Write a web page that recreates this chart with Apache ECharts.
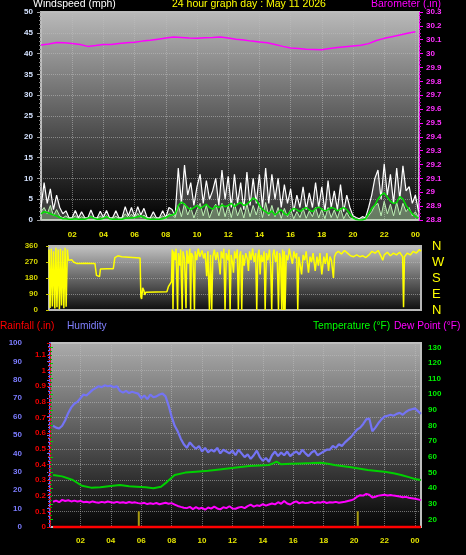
<!DOCTYPE html>
<html><head><meta charset="utf-8">
<script src="https://cdn.jsdelivr.net/npm/echarts@6/dist/echarts.min.js"></script>
<style>html,body{margin:0;padding:0;background:#000;}#c{width:466px;height:555px;}</style>
</head><body><div id="c"></div>
<script>
// ---------- data ----------
const hourLabels = ['02','04','06','08','10','12','14','16','18','20','22','00'];
const windStart = 0, windStep = 0.2;
const windGust = [3,9,4,7.5,2.5,6,3,1.5,2.2,0.5, 0.6,2.3,0.5,2.0,0.6,0.5,2.4,0.6,0.5,2.1, 0.6,2.3,0.5,0.6,2.2,0.5,0.6,3.2,1.0,3.0, 0.8,3.2,1.2,2.8,0.6,0.5,2.0,0.5,0.6,2.2, 0.6,3.0,2.5,1.0,12.5,4,13.2,6,9,3.5, 8,11,4,9.5,5,7,10,3.5,12,5, 10.5,3,11,4,9,2.5,11.5,3.5,10,4, 11,3,12.5,4,11,5,10,3,8.5,4, 7.5,2,6,3,8,2.5,6.5,3,9,3, 8,2,9.5,3,7,2.5,8.5,2,6,3, 1,0.6,0.3,0.8,0.5,3,6,10,12,5, 13.5,6,11,4,12.5,5,13,7,8,4, 6,2];
const windSpeed = [2,3,1.5,3.5,1,2.5,1,0.5,1.0,0.3, 0.5,1.0,0.3,0.8,0.4,0.3,1.0,0.4,0.3,0.9, 0.4,1.0,0.3,0.4,0.9,0.3,0.4,1.5,0.6,1.4, 0.5,1.6,0.6,1.2,0.4,0.3,0.8,0.3,0.4,1.0, 0.4,1.5,1.2,0.6,3.5,0.8,4,1.2,3,0.5, 2.5,4,1,3.5,0.5,2.5,3.8,1,4,0.8, 3.5,0.6,4,1,3,0.5,3.8,0.8,3.5,1.2, 4,0.6,4.2,1,3.5,0.8,3,0.4,2.8,0.8, 2.5,0.3,2,0.6,2.8,0.4,2.2,0.8,3,0.5, 2.6,0.3,3,0.6,2.4,0.4,2.8,0.3,1.8,0.5, 0.3,0.2,0.1,0.3,0.2,1,2,3.5,4,1, 4.5,1.5,3.8,1,4.2,1.2,4,2,3,1, 2,0.5];
const windAvg = [1.5,2,1.8,1.5,1.2,1.0,0.6,0.3,0.3,0.2, 0.2,0.3,0.2,0.2,0.2,0.4,0.8,0.4,0.2,0.2, 0.4,0.8,0.3,0.2,0.2,0.2,0.2,0.4,0.5,0.5, 0.6,0.8,1.0,0.6,0.3,0.2,0.2,0.2,0.2,0.3, 0.6,1.0,1.2,1.5,3.5,4.3,3.8,3,2.5,3, 3.5,2.8,3.2,3.8,3,2.6,3.4,3.0,3.6,3.2, 3.5,4,3.2,3.8,4.2,3.5,3.8,4.5,5.3,4.8, 3.5,2.5,2,1.5,2.2,1.2,1.8,2.5,1.5,1.2, 2.2,2.8,2.5,2,2.6,3,2.4,2,2.8,3.1, 2.6,2.2,2.5,3,2.8,2.2,2.6,3.0,2.5,1.5, 0.5,0.1,0,0,0.3,1.5,2.8,3.6,5,6, 6.5,5.5,4.5,4,4.2,5.6,5,3.5,2.5,1.5, 0.8,0.5];
const baroStart = 0, baroStep = 0.5;
const barometer = [30.062,30.070,30.080,30.078,30.072,30.065,30.052,30.058,30.065,30.066, 30.072,30.078,30.082,30.090,30.096,30.104,30.112,30.120,30.116,30.112, 30.110,30.114,30.116,30.120,30.112,30.104,30.098,30.090,30.084,30.078, 30.066,30.052,30.040,30.036,30.032,30.030,30.028,30.036,30.044,30.050, 30.055,30.060,30.072,30.094,30.110,30.122,30.134,30.146,30.158];
const windDir = [[0.0,340],[0.07,12],[0.15,345],[0.22,20],[0.3,330],[0.38,8],[0.45,350],[0.52,15],[0.6,340],[0.68,5],[0.75,345],[0.82,25],[0.9,335],[0.97,10],[1.05,350],[1.12,18],[1.2,340],[1.27,280],[1.4,288],[1.5,282],[1.6,270],[1.8,262],[2.4,263],[3.0,262],[3.1,195],[3.3,188],[3.36,230],[3.8,232],[4.2,232],[4.3,295],[4.5,305],[4.75,300],[4.8,292],[5.95,292],[6.0,75],[6.05,62],[6.12,125],[6.2,110],[6.25,85],[6.32,100],[6.4,103],[7.7,103],[7.8,131],[8.0,160],
[8.05,340],[8.1,5],[8.15,330],[8.25,280],[8.3,345],[8.4,0],[8.45,320],[8.55,250],[8.6,340],[8.7,0],[8.75,330],[8.85,290],[8.95,10],[9.0,335],[9.1,260],[9.2,345],[9.25,0],[9.3,320],[9.4,300],[9.5,0],[9.55,330],[9.65,280],[9.75,345],[9.85,300],
[9.9,310],[10.0,335],[10.1,290],[10.2,320],[10.3,190],[10.38,330],[10.48,0],[10.55,310],[10.63,0],[10.7,300],[10.8,340],[10.9,280],[11.0,325],[11.1,270],[11.18,200],[11.25,330],[11.35,290],[11.42,345],[11.5,0],[11.58,320],[11.7,280],[11.76,340],[11.83,0],[11.9,310],[12.0,260],[12.05,210],[12.12,330],[12.2,290],[12.3,340],[12.37,0],[12.44,300],[12.52,330],[12.59,0],[12.66,310],[12.75,250],[12.85,320],[12.95,290],[13.03,220],[13.1,330],[13.2,280],[13.3,345],[13.4,270],[13.5,320],[13.57,0],[13.64,300],[13.72,340],[13.79,200],[13.86,310],[13.95,270],[14.05,330],[14.12,0],[14.2,320],[14.3,280],[14.4,340],[14.48,250],[14.55,0],[14.62,310],[14.7,340],[14.8,270],[14.9,330],[14.99,0],[15.06,320],[15.13,290],[15.2,0],[15.26,340],[15.32,0],[15.37,330],[15.42,0],[15.5,310],[15.6,280],[15.7,345],[15.8,300],[15.9,260],[16.0,330],[16.1,290],[16.18,320],[16.25,0],[16.32,300],[16.4,260],[16.5,200],[16.6,310],[16.7,280],[16.8,330],[16.95,210],[17.05,300],[17.15,270],[17.25,320],[17.39,220],[17.5,300],[17.6,250],[17.7,320],[17.82,200],[17.95,300],[18.05,260],[18.15,320],[18.26,220],[18.35,300],[18.45,280],[18.58,180],[18.65,300],[18.75,320],
[18.9,330],[19.1,315],[19.3,335],[19.5,320],[19.7,305],[19.9,300],[20.1,310],[20.3,300],[20.5,305],[20.7,295],[20.9,310],[21.1,330],[21.3,320],[21.5,335],[21.7,300],[21.8,280],[21.9,310],[22.1,325],[22.3,305],[22.5,320],[22.7,310],[22.9,325],[23.1,300],[23.16,15],[23.22,300],[23.4,320],[23.6,310],[23.8,330],[24.0,320],[24.2,340],[24.3,330]];
const bottomStart = 0.2, bottomStep = 0.2;
const humidity = [55,54,53.5,55,58,62,65,67,68,70, 72,71.5,73,74.5,75.5,76.5,76,77,76.5,76.8, 76,76.5,74,73,74,72.8,73.5,73,72.5,70, 71.5,69.5,72,70.5,71,72,72.5,71,66,60, 55,52,48,45,43,46,44,42.5,44,41, 43,40.6,42,41,43,40,42,41,40,41.5, 39,42,40,38,39.5,37,39,41.5,38,36, 37.5,35.5,39,41,38.5,40.5,39,41,38.5,40, 41,39.5,42,40,38.5,40.5,41.5,39,40,41, 42,42,44,43,45,44,46,47.5,49,51, 53,54,56,58.5,59,52,54,56.5,58.5,60, 60.5,61,60.5,61.5,62,61,62.5,63.5,64,64.5, 63,61.5];
const temperature = [[0.2,48.4],[0.8,47.5],[1.5,45.2],[2.1,41.5],[2.7,40.3],[3.3,40.5],[4.0,41.3],[4.6,42],[5.2,41.2],[5.7,40.9],[6.3,40.5],[6.8,39.9],[7.3,40.9],[7.7,44],[8.2,48.4],[8.9,49.9],[9.6,50.5],[10.4,51.1],[11.0,51.8],[11.7,52.6],[12.4,53.4],[13.1,54.1],[13.8,54.5],[14.4,54.8],[14.7,56],[14.9,56.9],[15.2,55.2],[15.8,55.5],[16.5,55.8],[17.2,56],[17.8,56.2],[18.3,55.5],[18.7,54.8],[19.3,54],[19.8,53.3],[20.4,52.4],[20.9,51.6],[21.5,51],[22.0,50.5],[22.6,49.5],[23.1,48.4],[23.6,47],[24.0,45.8],[24.4,45.2]];
const dewPoint = [31.3,32,31,32.5,31.8,32.2,31.5,32,31.4,31.8, 31,31.3,30.8,31.5,31,30.6,31.2,30.8,31.4,31, 30.7,31.2,30.6,31,30.5,31.1,30.6,30.9,30.4,30.2, 30.6,29.8,30.3,29.9,30.5,29.7,30.2,30.6,30,30.4, 29.5,28.6,28,27.5,27.2,28,26.6,27.8,26.8,27.4, 26.2,27.6,26.9,28.2,27,26.4,27.8,27.2,28.4,27, 26.8,27.6,28,27.2,28.5,29.4,28.2,29,28.6,29.8, 28.8,29.5,30.2,29.6,31,30,31.8,30.2,29.5,30.8, 31.5,30.2,31,30.4,30.6,31.2,30.4,31,30.7,31.4, 30.5,31,30.8,31.2,30.6,31,31.3,31.8,32.2,33, 34.5,35.5,35.2,36.3,35.8,34,34.5,35.2,35.5,35.8, 35.3,35.6,35.2,35,34.6,34.2,34.4,33.8,33.5,33.2, 32.8,32.3];
const rainfall = [[0.2,0],[24.4,0]];
const rainMarks = [[5.84,0.1],[20.24,0.1]];
const dirLetters = ['N','E','S','W','N'];

// ---------- helpers ----------
const pairs = (arr, start, step) => arr.map((v, i) => [+(start + i * step).toFixed(3), v]);
const FONT = '"Liberation Sans", Arial, sans-serif';
const hourFmt = v => {
  const r = Math.round(v);
  if (Math.abs(v - r) > 1e-6 || r <= 0 || r % 2) return '';
  return hourLabels[r / 2 - 1] || '';
};
const grad = (c0, c1) => ({type:'linear',x:0,y:0,x2:0,y2:1,colorStops:[{offset:0,color:c0},{offset:1,color:c1}]});
const gridLine = {show:true, lineStyle:{color:'rgba(190,190,190,0.55)', type:'dotted', width:1}};
const lbl = (color, extra) => Object.assign({color, fontSize:8, fontWeight:'bold', fontFamily:FONT}, extra || {});

const chart = echarts.init(document.getElementById('c'), null, {renderer:'canvas'});
chart.setOption({
  backgroundColor:'#000',
  animation:false,
  grid:[
    {left:41, top:12, width:378, height:208, show:true, backgroundColor:grad('#bababa','#000000'), borderColor:'#bcbcbc', borderWidth:2, outerBoundsMode:'none'},
    {left:49, top:246, width:372, height:64, show:true, backgroundColor:grad('#c4c4c4','#0c0c0c'), borderColor:'#b8b8b8', borderWidth:2, outerBoundsMode:'none'},
    {left:50, top:343, width:371, height:184, show:true, backgroundColor:grad('#acacac','#040404'), borderColor:'#c0c0c0', borderWidth:2, outerBoundsMode:'none'},
    {left:50, top:347.3, width:371, height:172.1, show:false, outerBoundsMode:'none'}
  ],
  xAxis:[
    {gridIndex:0, type:'value', min:0, max:24.23, interval:2, axisLine:{show:false}, axisTick:{show:false},
     axisLabel:lbl('#ecec00',{formatter:hourFmt, margin:11, showMaxLabel:false}), splitLine:gridLine},
    {gridIndex:1, type:'value', min:0, max:24.3, interval:2, axisLine:{show:false}, axisTick:{show:false}, axisLabel:{show:false}, splitLine:{show:false}},
    {gridIndex:2, type:'value', min:0, max:24.4, interval:2, axisLine:{show:false},
     axisTick:{show:false},
     axisLabel:lbl('#e4e400',{formatter:hourFmt, margin:10, showMaxLabel:false}), splitLine:gridLine},
    {gridIndex:3, type:'value', min:0, max:24.4, show:false}
  ],
  yAxis:[
    {gridIndex:0, type:'value', position:'left', min:0, max:50, interval:5,
     axisLine:{show:false}, axisTick:{show:true, length:4, lineStyle:{color:'#9a9a9a'}},
     minorTick:{show:true, splitNumber:5, length:2, lineStyle:{color:'#8a8a8a'}},
     axisLabel:lbl('#d4e2ff',{margin:8}), splitLine:gridLine},
    {gridIndex:0, type:'value', position:'right', min:28.8, max:30.3, interval:0.1,
     axisLine:{show:true, lineStyle:{color:'#ff00ff', type:'dotted'}},
     axisTick:{show:true, length:4, lineStyle:{color:'#ff00ff'}},
     minorTick:{show:true, splitNumber:4, length:2, lineStyle:{color:'#c000c0'}},
     axisLabel:lbl('#ff30ff',{margin:7}), splitLine:{show:false}},
    {gridIndex:1, type:'value', position:'left', min:0, max:360, interval:90,
     axisLine:{show:false}, axisTick:{show:true, length:3, lineStyle:{color:'#c8c800'}},
     axisLabel:lbl('#d4d400',{margin:11}), splitLine:gridLine},
    {gridIndex:1, type:'value', position:'right', min:0, max:360, interval:90,
     axisLine:{show:false}, axisTick:{show:false},
     axisLabel:{color:'#ffff00', fontSize:13, fontFamily:FONT, margin:11, formatter:v => dirLetters[Math.round(v/90)] || ''},
     splitLine:{show:false}},
    {gridIndex:2, type:'value', position:'left', offset:20, min:0, max:100, interval:10,
     axisLine:{show:true, lineStyle:{color:'#6c6cff', width:2}},
     axisTick:{show:true, length:3, lineStyle:{color:'#6c6cff'}},
     minorTick:{show:true, splitNumber:5, length:2, lineStyle:{color:'#6c6cff'}},
     axisLabel:lbl('#7c7cff',{margin:8}), splitLine:{show:false}},
    {gridIndex:2, type:'value', position:'left', offset:0, min:0, max:1.176, interval:0.1,
     axisLine:{show:true, lineStyle:{color:'#e00000', type:'dotted'}},
     axisTick:{show:true, length:3, lineStyle:{color:'#e00000'}},
     minorTick:{show:true, splitNumber:4, length:2, lineStyle:{color:'#c00000'}},
     axisLabel:lbl('#f00000',{margin:4, showMaxLabel:false}), splitLine:gridLine},
    {gridIndex:3, type:'value', position:'right', min:20, max:130, interval:10,
     axisLine:{show:false},
     axisTick:{show:true, length:3, lineStyle:{color:'#00d000'}},
     minorTick:{show:true, splitNumber:4, length:2, lineStyle:{color:'#00a000'}},
     axisLabel:lbl('#00f000',{margin:7}), splitLine:{show:false}}
  ],
  series:[
    {type:'line', name:'Gust', xAxisIndex:0, yAxisIndex:0, data:pairs(windGust, windStart, windStep), showSymbol:false, lineStyle:{color:'#ffffff', width:1.2}, areaStyle:{color:'rgba(215,215,215,0.35)'}, z:2},
    {type:'line', name:'Speed', xAxisIndex:0, yAxisIndex:0, data:pairs(windSpeed, windStart, windStep), showSymbol:false, lineStyle:{color:'#bdf0b4', width:1}, areaStyle:{color:'rgba(180,235,170,0.55)'}, z:3},
    {type:'line', name:'Average', xAxisIndex:0, yAxisIndex:0, data:pairs(windAvg, windStart, windStep), showSymbol:false, lineStyle:{color:'#00e000', width:1.5}, z:4},
    {type:'line', name:'Barometer', xAxisIndex:0, yAxisIndex:1, data:pairs(barometer, baroStart, baroStep), showSymbol:false, lineStyle:{color:'#ff00ff', width:1.5}, z:5},
    {type:'line', name:'Direction', xAxisIndex:1, yAxisIndex:2, data:windDir, showSymbol:false, lineStyle:{color:'#ffff00', width:1.5}, z:3},
    {type:'line', name:'Humidity', xAxisIndex:2, yAxisIndex:4, data:pairs(humidity, bottomStart, bottomStep), showSymbol:false, lineStyle:{color:'#7474f4', width:2.2}, z:3},
    {type:'line', name:'Temperature', xAxisIndex:3, yAxisIndex:6, data:temperature, showSymbol:false, lineStyle:{color:'#00d000', width:2}, z:4},
    {type:'line', name:'Dew Point', xAxisIndex:3, yAxisIndex:6, data:pairs(dewPoint, bottomStart, bottomStep), showSymbol:false, lineStyle:{color:'#ff00ff', width:2}, z:4},
    {type:'bar', name:'Rain marks', xAxisIndex:2, yAxisIndex:5, data:rainMarks, barWidth:2, itemStyle:{color:'#a89a10'}, z:5},
    {type:'line', name:'Rainfall', xAxisIndex:2, yAxisIndex:5, data:rainfall, showSymbol:false, clip:false, lineStyle:{color:'#ff0000', width:2.5}, z:6}
  ],
  graphic:[
    {type:'text', left:33, top:-1, style:{text:'Windspeed (mph)', fill:'#ffffff', font:'10.5px '+FONT}},
    {type:'text', left:172, top:-1, style:{text:'24 hour graph day : May 11 2026', fill:'#ffff00', font:'10.5px '+FONT}},
    {type:'text', left:371, top:-1, style:{text:'Barometer (.in)', fill:'#ff00ff', font:'10.5px '+FONT}},
    {type:'text', left:0, top:321, style:{text:'Rainfall (.in)', fill:'#ff0000', font:'10.2px '+FONT}},
    {type:'text', left:67, top:321, style:{text:'Humidity', fill:'#8080ff', font:'10.2px '+FONT}},
    {type:'text', left:313, top:321, style:{text:'Temperature (°F)', fill:'#00ff00', font:'10.2px '+FONT}},
    {type:'text', left:394, top:321, style:{text:'Dew Point (°F)', fill:'#ff00ff', font:'10.2px '+FONT}}
  ]
});
</script></body></html>
